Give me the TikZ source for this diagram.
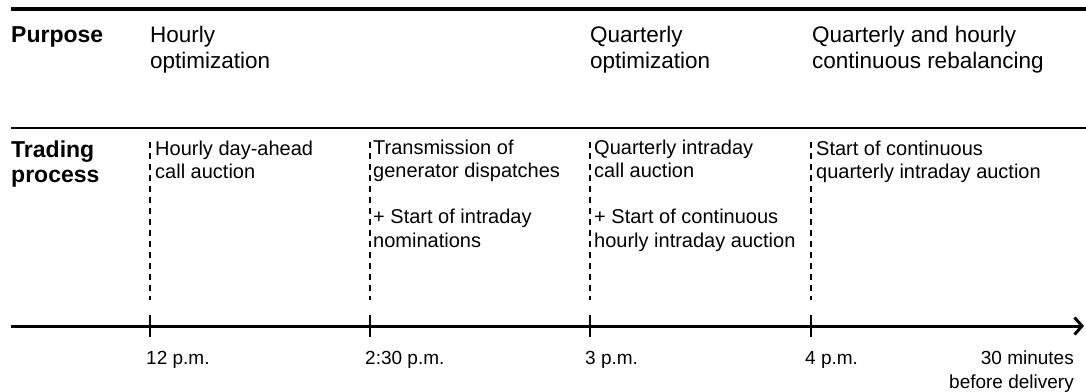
\documentclass[tikz,border=0pt]{standalone}
\usepackage{fontspec}
\setmainfont{Liberation Sans}
\usetikzlibrary{arrows.meta}
\tikzset{
  rowhead/.style={anchor=base west, inner sep=0pt, align=left, font=\fontsize{23}{25}\selectfont\bfseries},
  purposetxt/.style={anchor=base west, inner sep=0pt, align=left, font=\fontsize{22.5}{26}\selectfont},
  tradetxt/.style={anchor=base west, inner sep=0pt, align=left, font=\fontsize{20}{23.3}\selectfont},
  timelbl/.style={anchor=base west, inner sep=0pt, font=\fontsize{19}{24}\selectfont},
  rule/.style={line width=#1},
  eventline/.style={line width=2pt, dash pattern=on 6pt off 5pt},
  tickmark/.style={line width=2pt},
}
\begin{document}
\begin{tikzpicture}[x=1pt,y=-1pt]
\useasboundingbox (0,0) rectangle (1086,391);
% horizontal rules
\coordinate (r1a) at (11,9);   \coordinate (r1b) at (1086,9);
\coordinate (r2a) at (11,128); \coordinate (r2b) at (1086,128);
\draw[rule=3.5pt] (r1a) -- (r1b);
\draw[rule=2pt] (r2a) -- (r2b);
% axis
\coordinate (axs) at (11,326); \coordinate (axe) at (1084,326);
\draw[line width=3pt, -{Straight Barb[length=7.5pt,width=17pt,line width=3pt]}] (axs) -- (axe);
% event lines and ticks
\foreach \n/\x in {a/150, b/370, c/590, d/811} {
  \coordinate (top\n) at (\x,142);
  \coordinate (bot\n) at (\x,300);
  \coordinate (tk\n1) at (\x,315);
  \coordinate (tk\n2) at (\x,337);
  \draw[eventline] (top\n) -- (bot\n);
  \draw[tickmark] (tk\n1) -- (tk\n2);
}
% row headers (anchor = baseline of last line)
\node[rowhead] (purpose) at (11,42) {Purpose};
\node[rowhead] (trading) at (11,182) {Trading\\process};
% purpose row
\node[purposetxt] (p1) at (150,68) {Hourly\\optimization};
\node[purposetxt] (p2) at (590,68) {Quarterly\\optimization};
\node[purposetxt] (p3) at (812,68) {Quarterly and hourly\\continuous rebalancing};
% trading row
\node[tradetxt] (t1) at (155,178.3) {Hourly day-ahead\\call auction};
\node[tradetxt] (t2) at (373,247.2) {Transmission of\\generator dispatches\\[23.3pt]+ Start of intraday\\nominations};
\node[tradetxt] (t3) at (594,247.2) {Quarterly intraday\\call auction\\[23.3pt]+ Start of continuous\\hourly intraday auction};
\node[tradetxt] (t4) at (816,178.3) {Start of continuous\\quarterly intraday auction};
% time labels
\node[timelbl] (l1) at (146,364) {12 p.m.};
\node[timelbl] (l2) at (365,364) {2:30 p.m.};
\node[timelbl] (l3) at (585,364) {3 p.m.};
\node[timelbl] (l4) at (805,364) {4 p.m.};
\node[timelbl, anchor=base east, align=right] (l5) at (1074,388) {30 minutes\\before delivery};
\end{tikzpicture}
\end{document}
